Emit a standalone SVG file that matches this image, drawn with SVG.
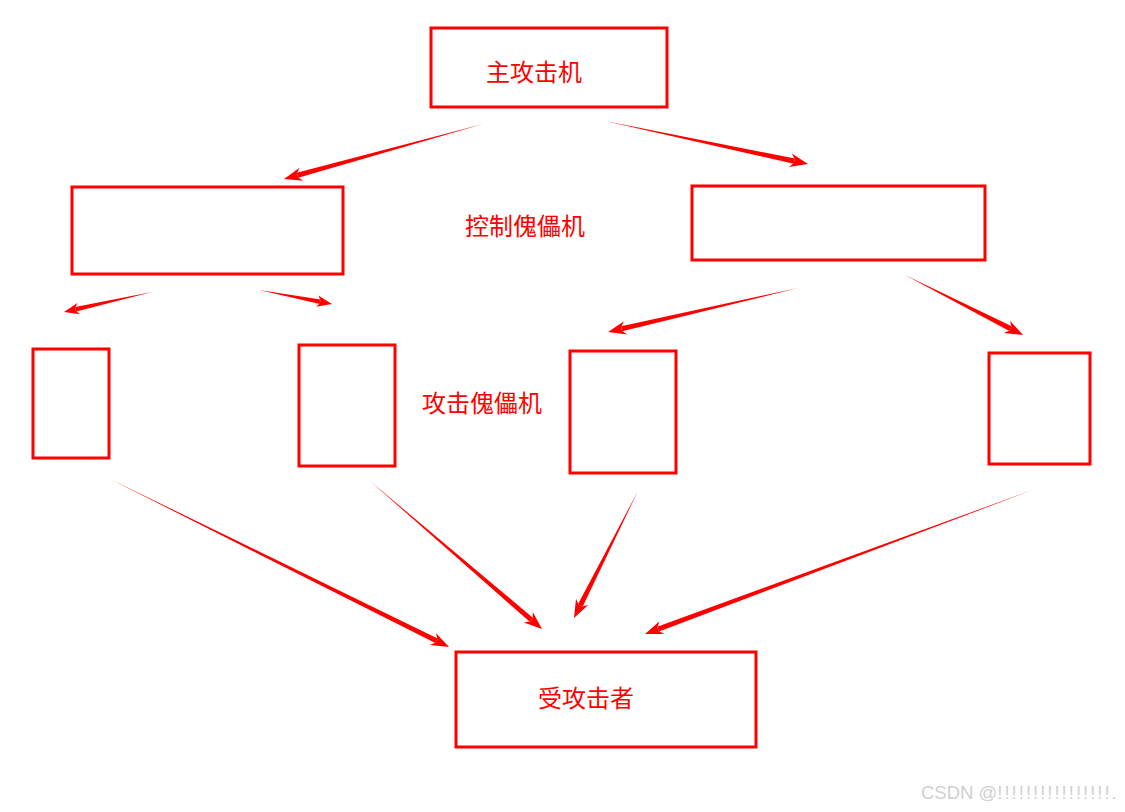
<svg xmlns="http://www.w3.org/2000/svg" xmlns:xlink="http://www.w3.org/1999/xlink" width="1125" height="812" viewBox="0 0 1125 812">
<style>
.box{fill:none;stroke:#ff0000;stroke-width:3}
.lbl{font-family:"Noto Sans CJK SC","Liberation Sans",sans-serif;font-size:24px;fill:#ff0000}
.arr{fill:#ff0000}
.wm{font-family:"Liberation Sans",sans-serif;font-size:18.5px;fill:#d0d0d0}
</style>
<defs>
<path id="head" d="M0,0 L-18,-6.8 L-14,-2 L-14,2 L-18,6.8 Z"/>
<path id="headS" d="M0,0 L-15,-5.8 L-12,-1.6 L-12,1.6 L-15,5.8 Z"/>
</defs>
<rect width="1125" height="812" fill="#ffffff"/>
<g id="attacker"><rect class="box" x="431" y="28" width="236" height="79"/><text class="lbl" x="534" y="81" text-anchor="middle">主攻击机</text></g>
<g id="ctrl-left"><rect class="box" x="72" y="187" width="271" height="87"/></g>
<g id="ctrl-right"><rect class="box" x="692" y="186" width="293" height="74"/></g>
<g id="ctrl-label"><text class="lbl" x="525" y="235" text-anchor="middle">控制傀儡机</text></g>
<g id="z1"><rect class="box" x="33" y="349" width="76" height="109"/></g>
<g id="z2"><rect class="box" x="299" y="345" width="96" height="121"/></g>
<g id="z3"><rect class="box" x="570" y="351" width="106" height="122"/></g>
<g id="z4"><rect class="box" x="989" y="353" width="101" height="111"/></g>
<g id="zombie-label"><text class="lbl" x="482" y="412" text-anchor="middle">攻击傀儡机</text></g>
<g id="victim"><rect class="box" x="456" y="652" width="300" height="95"/><text class="lbl" x="586" y="707" text-anchor="middle">受攻击者</text></g>
<g id="connectors" class="arr">
<g transform="translate(284,179) rotate(164.55)"><polygon points="-206.5,0 -14,-2.6 -14,2.6"/><use xlink:href="#head"/></g>
<g transform="translate(808,164) rotate(11.96)"><polygon points="-207.5,0 -14,-2.6 -14,2.6"/><use xlink:href="#head"/></g>
<g transform="translate(64,312) rotate(167.2)"><polygon points="-90.2,0 -12,-2.3 -12,2.3"/><use xlink:href="#headS"/></g>
<g transform="translate(332,304) rotate(10.86)"><polygon points="-74.3,0 -12,-2.3 -12,2.3"/><use xlink:href="#headS"/></g>
<g transform="translate(608,332) rotate(166.96)"><polygon points="-195,0 -14,-2.6 -14,2.6"/><use xlink:href="#head"/></g>
<g transform="translate(1023,335) rotate(26.95)"><polygon points="-132.4,0 -14,-2.6 -14,2.6"/><use xlink:href="#head"/></g>
<g transform="translate(449,647) rotate(26.36)"><polygon points="-378.3,0 -14,-2.6 -14,2.6"/><use xlink:href="#head"/></g>
<g transform="translate(542,629) rotate(40.71)"><polygon points="-226.9,0 -14,-2.6 -14,2.6"/><use xlink:href="#head"/></g>
<g transform="translate(574,618) rotate(116.74)"><polygon points="-142.2,0 -14,-2.6 -14,2.6"/><use xlink:href="#head"/></g>
<g transform="translate(645,634) rotate(159.61)"><polygon points="-416.1,0 -14,-2.6 -14,2.6"/><use xlink:href="#head"/></g>
</g>
<text class="wm" x="921" y="799">CSDN @<tspan letter-spacing="2">!!!!!!!!!!!!!!!!.</tspan></text>
</svg>
